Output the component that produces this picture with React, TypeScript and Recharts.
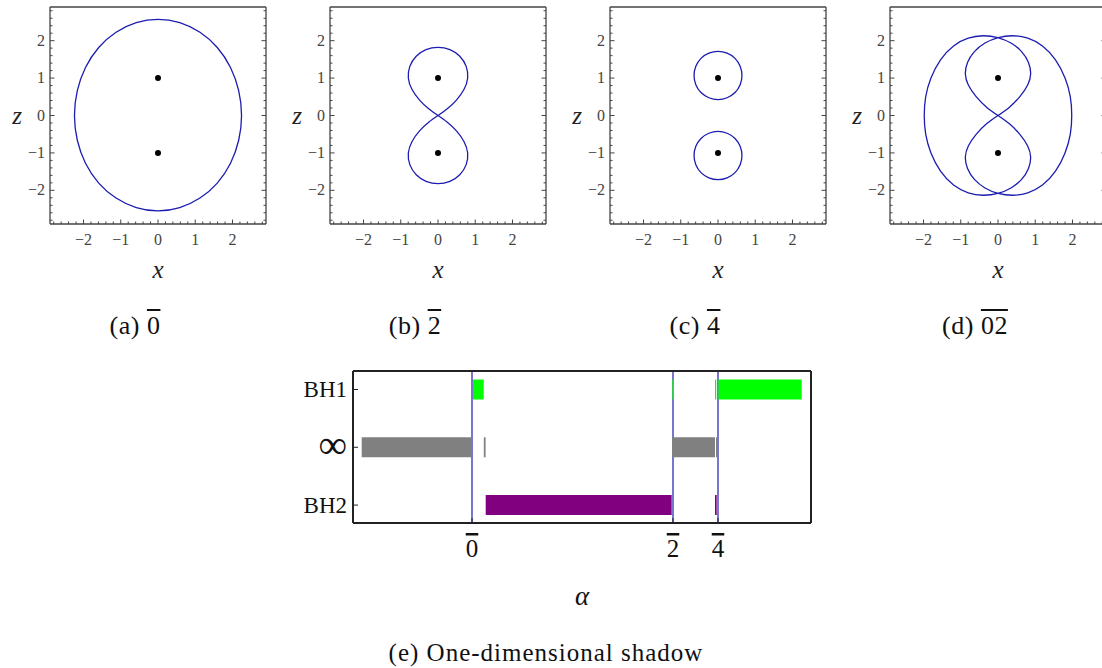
import React from "react";
import { ScatterChart, Scatter, XAxis, YAxis, ReferenceLine, Label } from "recharts";

const BLUE = "#1c1cb0";
const FRAME = "#444";
const SERIF = '"Liberation Serif", "DejaVu Serif", serif';

// frame ticks of the four small panels
const majorTicks = [-2, -1, 0, 1, 2];
const allTicks = [
  -2.8, -2.6, -2.4, -2.2, -2, -1.8, -1.6, -1.4, -1.2, -1, -0.8, -0.6, -0.4, -0.2, 0,
  0.2, 0.4, 0.6, 0.8, 1, 1.2, 1.4, 1.6, 1.8, 2, 2.2, 2.4, 2.6, 2.8,
];

// (a) single oval
const ovalA: [number, number][] = [
  [2.27, 0], [2.19, 0.67], [1.97, 1.3], [1.61, 1.84], [1.14, 2.25], [0.59, 2.51], [0, 2.6],
  [-0.59, 2.51], [-1.14, 2.25], [-1.61, 1.84], [-1.97, 1.3], [-2.19, 0.67], [-2.27, 0],
  [-2.19, -0.67], [-1.97, -1.29], [-1.61, -1.83], [-1.14, -2.23], [-0.59, -2.49], [0, -2.58],
  [0.59, -2.49], [1.14, -2.23], [1.61, -1.83], [1.97, -1.29], [2.19, -0.67],
];

// (b) figure eight
const eightB: [number, number][] = [
  [0, 0], [0.25, 0.17], [0.5, 0.4], [0.72, 0.7], [0.82, 1.0], [0.78, 1.32], [0.6, 1.6], [0.33, 1.78],
  [0, 1.84], [-0.33, 1.78], [-0.6, 1.6], [-0.78, 1.32], [-0.82, 1.0], [-0.72, 0.7], [-0.5, 0.4], [-0.25, 0.17],
  [0, 0], [0.25, -0.17], [0.5, -0.4], [0.72, -0.7], [0.82, -1.0], [0.78, -1.32], [0.6, -1.6], [0.33, -1.78],
  [0, -1.84], [-0.33, -1.78], [-0.6, -1.6], [-0.78, -1.32], [-0.82, -1.0], [-0.72, -0.7], [-0.5, -0.4], [-0.25, -0.17],
];

// (c) two separate rings
const upperRingC: [number, number][] = [
  [0.66, 1.07], [0.61, 1.32], [0.47, 1.54], [0.25, 1.68], [0, 1.73], [-0.25, 1.68], [-0.47, 1.54], [-0.61, 1.32],
  [-0.66, 1.07], [-0.61, 0.82], [-0.47, 0.6], [-0.25, 0.46], [0, 0.41], [0.25, 0.46], [0.47, 0.6], [0.61, 0.82],
];
const lowerRingC: [number, number][] = [
  [0.66, -1.07], [0.61, -0.82], [0.47, -0.6], [0.25, -0.46], [0, -0.41], [-0.25, -0.46], [-0.47, -0.6], [-0.61, -0.82],
  [-0.66, -1.07], [-0.61, -1.32], [-0.47, -1.54], [-0.25, -1.68], [0, -1.73], [0.25, -1.68], [0.47, -1.54], [0.61, -1.32],
];

// (d) one curve: inner eight wound together with outer oval
const shadowD: [number, number][] = [
  [0, 0], [0.3, 0.2], [0.6, 0.5], [0.82, 0.82], [0.9, 1.1], [0.84, 1.42], [0.65, 1.72], [0.36, 1.95], [0, 2.1],
  [-0.4, 2.15], [-0.8, 2.09], [-1.2, 1.89], [-1.56, 1.51], [-1.82, 1.0], [-1.96, 0.5], [-1.99, 0],
  [-1.96, -0.5], [-1.82, -1.0], [-1.56, -1.51], [-1.2, -1.89], [-0.8, -2.09], [-0.4, -2.15], [0, -2.1],
  [0.36, -1.95], [0.65, -1.72], [0.84, -1.42], [0.9, -1.1], [0.82, -0.82], [0.6, -0.5], [0.3, -0.2],
  [0, 0], [-0.3, 0.2], [-0.6, 0.5], [-0.82, 0.82], [-0.9, 1.1], [-0.84, 1.42], [-0.65, 1.72], [-0.36, 1.95], [0, 2.1],
  [0.4, 2.15], [0.8, 2.09], [1.2, 1.89], [1.56, 1.51], [1.82, 1.0], [1.96, 0.5], [1.99, 0],
  [1.96, -0.5], [1.82, -1.0], [1.56, -1.51], [1.2, -1.89], [0.8, -2.09], [0.4, -2.15], [0, -2.1],
  [-0.36, -1.95], [-0.65, -1.72], [-0.84, -1.42], [-0.9, -1.1], [-0.82, -0.82], [-0.6, -0.5], [-0.3, -0.2],
];

const centres: [number, number][] = [[0, 1], [0, -1]];

const captionTags = ["(a)", "(b)", "(c)", "(d)"];
const captionMarks = ["0", "2", "4", "02"];

// (e) one-dimensional shadow
const alphaMarks = [0, 2.01, 2.46];
const alphaLabels = ["0", "2", "4"];
const rowValues = [0, 1, 2];
const rowLabels = ["BH2", "\u221e", "BH1"];
const bh1Segments: [number, number][] = [[0.01, 0.117], [2.004, 2.02], [2.43, 2.442], [2.464, 3.297]];
const infSegments: [number, number][] = [[-1.103, 0], [0.118, 0.136], [2.0, 2.43], [2.44, 2.45]];
const bh2Segments: [number, number][] = [[0.137, 1.997], [2.43, 2.447]];

const toPts = (arr: [number, number][]) => arr.map(([x, y]) => ({ x, y }));

const noShape = () => <g />;
const dotShape = (p: any) => <circle cx={p.cx} cy={p.cy} r={3} fill="#000" />;

const tickLabel = (v: number) => (v < 0 ? `\u2212${-v}` : `${v}`);

const frameTick = (side: "bottom" | "top" | "left" | "right") => (props: any) => {
  const { x, y, payload } = props;
  const v = payload.value;
  const major = majorTicks.includes(v);
  const len = major ? 4.5 : 2.5;
  const textStyle = { fontFamily: SERIF, fontSize: 16, fill: "#444" };
  if (side === "bottom")
    return (
      <g>
        <line x1={x} y1={y} x2={x} y2={y - len} stroke={FRAME} />
        {major && <text x={x} y={y + 21} textAnchor="middle" style={textStyle}>{tickLabel(v)}</text>}
      </g>
    );
  if (side === "top") return <line x1={x} y1={y} x2={x} y2={y + len} stroke={FRAME} />;
  if (side === "right") return <line x1={x} y1={y} x2={x - len} y2={y} stroke={FRAME} />;
  return (
    <g>
      <line x1={x} y1={y} x2={x + len} y2={y} stroke={FRAME} />
      {major && <text x={x - 5} y={y + 5} textAnchor="end" style={textStyle}>{tickLabel(v)}</text>}
    </g>
  );
};

const Panel = ({ left, curves }: { left: number; curves: [number, number][][] }) => {
  const axisCommon = {
    type: "number" as const,
    domain: [-2.9, 2.9],
    allowDataOverflow: true,
    ticks: allTicks,
    interval: 0,
    tickSize: 0,
    tickMargin: 0,
    tickLine: false,
    axisLine: { stroke: FRAME, strokeWidth: 1.3 },
  };
  return (
    <div style={{ position: "absolute", left, top: 0 }}>
      <ScatterChart width={280} height={300} margin={{ top: 6, right: 13, bottom: 75, left: 49 }}>
        <XAxis {...axisCommon} dataKey="x" height={1} tick={frameTick("bottom")}>
          <Label value="x" position="bottom" offset={35} style={{ fontFamily: SERIF, fontStyle: "italic", fontSize: 25, fill: "#222" }} />
        </XAxis>
        <XAxis {...axisCommon} xAxisId="top" orientation="top" height={1} tick={frameTick("top")} />
        <YAxis {...axisCommon} dataKey="y" width={1} tick={frameTick("left")}>
          <Label value="z" position="left" offset={27} style={{ fontFamily: SERIF, fontStyle: "italic", fontSize: 25, fill: "#222" }} />
        </YAxis>
        <YAxis {...axisCommon} yAxisId="right" orientation="right" width={1} tick={frameTick("right")} />
        {curves.map((c, i) => (
          <Scatter
            key={i}
            data={toPts(c)}
            fill={BLUE}
            line={{ stroke: BLUE, strokeWidth: 1.3 }}
            lineJointType="basisClosed"
            shape={noShape}
            isAnimationActive={false}
          />
        ))}
        <Scatter data={toPts(centres)} fill="#000" shape={dotShape} isAnimationActive={false} />
      </ScatterChart>
    </div>
  );
};

const alphaTick = (props: any) => {
  const { x, y, payload } = props;
  const i = alphaMarks.indexOf(payload.value);
  return (
    <g>
      <line x1={x} y1={y} x2={x} y2={y - 5} stroke="#222" />
      <text x={x} y={y + 34} textAnchor="middle" style={{ fontFamily: SERIF, fontSize: 25, fill: "#111", textDecoration: "overline" }}>
        {alphaLabels[i]}
      </text>
    </g>
  );
};

const rowTick = (props: any) => {
  const { x, y, payload } = props;
  const i = rowValues.indexOf(payload.value);
  const inf = rowLabels[i] === "\u221e";
  return (
    <g>
      <line x1={x} y1={y} x2={x + 5} y2={y} stroke="#222" />
      <text x={x - 6} y={y + (inf ? 11 : 8)} textAnchor="end" style={{ fontFamily: SERIF, fontSize: inf ? 40 : 23, fill: "#111" }}>
        {rowLabels[i]}
      </text>
    </g>
  );
};

const barRows = [
  { row: 2, segs: bh1Segments, color: "#00ff00" },
  { row: 1, segs: infSegments, color: "#808080" },
  { row: 0, segs: bh2Segments, color: "#800080" },
];

const ShadowChart = () => {
  const xCommon = {
    type: "number" as const,
    domain: [-1.19, 3.39],
    allowDataOverflow: true,
    axisLine: { stroke: "#222", strokeWidth: 2 },
    tickLine: false,
    tickSize: 0,
    tickMargin: 0,
  };
  const yCommon = {
    type: "number" as const,
    domain: [-0.31, 2.32],
    allowDataOverflow: true,
    axisLine: { stroke: "#222", strokeWidth: 2 },
    tickLine: false,
    tickSize: 0,
    tickMargin: 0,
  };
  return (
    <div style={{ position: "absolute", left: 280, top: 360 }}>
      <ScatterChart width={560} height={260} margin={{ top: 10, right: 28, bottom: 96, left: 72 }}>
        <XAxis {...xCommon} dataKey="x" height={1} ticks={alphaMarks} interval={0} tick={alphaTick}>
          <Label value="α" position="bottom" offset={62} style={{ fontFamily: SERIF, fontStyle: "italic", fontSize: 27, fill: "#111" }} />
        </XAxis>
        <XAxis {...xCommon} xAxisId="top" orientation="top" height={1} tick={false} />
        <YAxis {...yCommon} dataKey="y" width={1} ticks={rowValues} interval={0} tick={rowTick} />
        <YAxis {...yCommon} yAxisId="right" orientation="right" width={1} tick={false} />
        {barRows.flatMap((r) =>
          r.segs.map((s, i) => (
            <Scatter
              key={`${r.row}-${i}`}
              data={[{ x: s[0], y: r.row }, { x: s[1], y: r.row }]}
              fill={r.color}
              line={{ stroke: r.color, strokeWidth: 20, strokeLinecap: "butt" }}
              shape={noShape}
              isAnimationActive={false}
            />
          ))
        )}
        {alphaMarks.map((a) => (
          <ReferenceLine key={a} x={a} stroke={BLUE} strokeWidth={1.2} />
        ))}
      </ScatterChart>
    </div>
  );
};

const panelCurves: [number, number][][][] = [[ovalA], [eightB], [upperRingC, lowerRingC], [shadowD]];

export default function App() {
  return (
    <div style={{ position: "fixed", left: 0, top: 0, width: 1102, height: 668, overflow: "hidden", background: "#fff", fontFamily: SERIF }}>
      {panelCurves.map((c, i) => (
        <Panel key={i} left={280 * i} curves={c} />
      ))}
      {captionTags.map((t, i) => (
        <div
          key={t}
          style={{ position: "absolute", left: 135 + 280 * i - 60, width: 120, top: 311, textAlign: "center", fontSize: 26, letterSpacing: 0.5, color: "#111", whiteSpace: "nowrap" }}
        >
          {t}&nbsp;<span style={{ textDecoration: "overline" }}>{captionMarks[i]}</span>
        </div>
      ))}
      <ShadowChart />
      <div style={{ position: "absolute", left: 346, width: 400, top: 639, textAlign: "center", fontSize: 25, letterSpacing: 1, color: "#111", whiteSpace: "nowrap" }}>
        (e) One-dimensional shadow
      </div>
    </div>
  );
}
